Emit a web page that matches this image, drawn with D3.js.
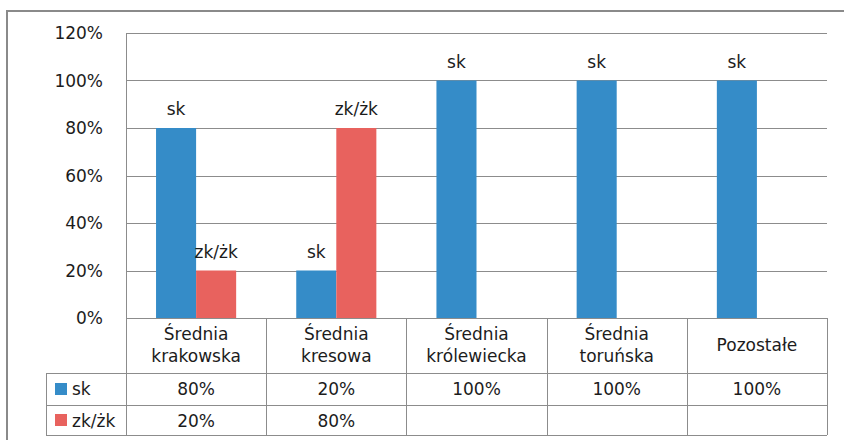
<!DOCTYPE html>
<html>
<head>
<meta charset="utf-8">
<script src="https://cdn.jsdelivr.net/npm/d3@7"></script>
<style>
    body { margin: 0; background: #fff; }
    text { font-family: 'DejaVu Sans', sans-serif; fill: #1c1c1c; }
</style>
</head>
<body>
<div id="chart"></div>
<script>
// chart data
var categories = [['Średnia', 'krakowska'], ['Średnia', 'kresowa'], ['Średnia', 'królewiecka'], ['Średnia', 'toruńska'], ['Pozostałe']];
var seriesNames = ['sk', 'zk/żk'];
var skValues = [0.8, 0.2, 1.0, 1.0, 1.0];
var zkValues = [0.2, 0.8, null, null, null];
var yTicks = [0, 0.2, 0.4, 0.6, 0.8, 1.0, 1.2];
var colors = ['#358cc8', '#e8625e'];

var width = 844;
var height = 440;
var gridColor = '#8c8c8c';
var fontSize = 17;

var svg = d3.select('#chart').append('svg')
    .attr('width', width)
    .attr('height', height);

// outer frame (runs past the picture on the right and bottom)
svg.append('rect')
    .attr('x', 7)
    .attr('y', 11)
    .attr('width', 900)
    .attr('height', 500)
    .attr('fill', 'none')
    .attr('stroke', '#8a8a8a')
    .attr('stroke-width', 2);

// plot area
var plotLeft = 126, plotRight = 827, plotTop = 33, plotBottom = 318;
var tableLeft = 46;
var rowLines = [318, 373, 405, 435];

var x = d3.scaleBand().domain(d3.range(categories.length)).range([plotLeft, plotRight]);
var xSub = d3.scaleBand().domain(seriesNames).range([0, x.bandwidth()]).paddingOuter(0.75);
var y = d3.scaleLinear().domain([0, 1.2]).range([plotBottom, plotTop]);

// gridlines
svg.selectAll('.grid')
    .data(yTicks)
    .enter().append('line')
    .attr('x1', plotLeft)
    .attr('x2', plotRight)
    .attr('y1', function (d) { return Math.round(y(d)) + 0.5; })
    .attr('y2', function (d) { return Math.round(y(d)) + 0.5; })
    .attr('stroke', gridColor)
    .attr('stroke-width', 1);

// y axis line
svg.append('line')
    .attr('x1', plotLeft + 0.5).attr('x2', plotLeft + 0.5)
    .attr('y1', plotTop).attr('y2', plotBottom)
    .attr('stroke', gridColor);

// y tick labels
svg.selectAll('.ytick')
    .data(yTicks)
    .enter().append('text')
    .attr('x', 103)
    .attr('y', function (d) { return y(d); })
    .attr('dy', '0.36em')
    .style('text-anchor', 'end')
    .style('font-size', fontSize + 'px')
    .text(function (d) { return Math.round(d * 100) + '%'; });

// bars
var seriesData = [skValues, zkValues];
seriesData.forEach(function (values, s) {
    var items = values.map(function (v, i) { return { i: i, v: v }; })
        .filter(function (d) { return d.v !== null; });

    svg.selectAll('.bar' + s)
        .data(items)
        .enter().append('rect')
        .attr('x', function (d) { return x(d.i) + xSub(seriesNames[s]); })
        .attr('y', function (d) { return y(d.v); })
        .attr('width', xSub.bandwidth())
        .attr('height', function (d) { return y(0) - y(d.v); })
        .attr('fill', colors[s]);

    // data labels show the series name
    svg.selectAll('.lbl' + s)
        .data(items)
        .enter().append('text')
        .attr('x', function (d) { return x(d.i) + xSub(seriesNames[s]) + xSub.bandwidth() / 2; })
        .attr('y', function (d) { return y(d.v) - 13; })
        .style('text-anchor', 'middle')
        .style('font-size', fontSize + 'px')
        .text(seriesNames[s]);
});

// data table lines
svg.append('line')
    .attr('x1', plotLeft).attr('x2', plotRight)
    .attr('y1', rowLines[0] + 0.5).attr('y2', rowLines[0] + 0.5)
    .attr('stroke', gridColor);
rowLines.slice(1).forEach(function (ry) {
    svg.append('line')
        .attr('x1', tableLeft).attr('x2', plotRight)
        .attr('y1', ry + 0.5).attr('y2', ry + 0.5)
        .attr('stroke', gridColor);
});
d3.range(categories.length + 1).forEach(function (i) {
    var cx = i < categories.length ? x(i) : plotRight;
    svg.append('line')
        .attr('x1', Math.round(cx) + 0.5).attr('x2', Math.round(cx) + 0.5)
        .attr('y1', i === 0 ? plotTop : rowLines[0]).attr('y2', rowLines[3])
        .attr('stroke', gridColor);
});
svg.append('line')
    .attr('x1', tableLeft + 0.5).attr('x2', tableLeft + 0.5)
    .attr('y1', rowLines[1]).attr('y2', rowLines[3])
    .attr('stroke', gridColor);

// category headers
categories.forEach(function (lines, i) {
    var t = svg.append('text')
        .attr('x', x(i) + x.bandwidth() / 2)
        .attr('y', lines.length === 1 ? 351 : 340)
        .style('text-anchor', 'middle')
        .style('font-size', fontSize + 'px');
    lines.forEach(function (line, k) {
        t.append('tspan')
            .attr('x', x(i) + x.bandwidth() / 2)
            .attr('dy', k === 0 ? 0 : 22)
            .text(line);
    });
});

// legend keys and values
var rowBase = [395, 427];
seriesData.forEach(function (values, s) {
    var mid = (rowLines[s + 1] + rowLines[s + 2]) / 2;
    svg.append('rect')
        .attr('x', 55)
        .attr('y', mid - 6)
        .attr('width', 12)
        .attr('height', 12)
        .attr('fill', colors[s]);
    svg.append('text')
        .attr('x', 72)
        .attr('y', rowBase[s])
        .style('font-size', fontSize + 'px')
        .text(seriesNames[s]);

    svg.selectAll('.val' + s)
        .data(values)
        .enter().append('text')
        .attr('x', function (d, i) { return x(i) + x.bandwidth() / 2; })
        .attr('y', rowBase[s])
        .style('text-anchor', 'middle')
        .style('font-size', fontSize + 'px')
        .text(function (d) { return d === null ? '' : Math.round(d * 100) + '%'; });
});
</script>
</body>
</html>
